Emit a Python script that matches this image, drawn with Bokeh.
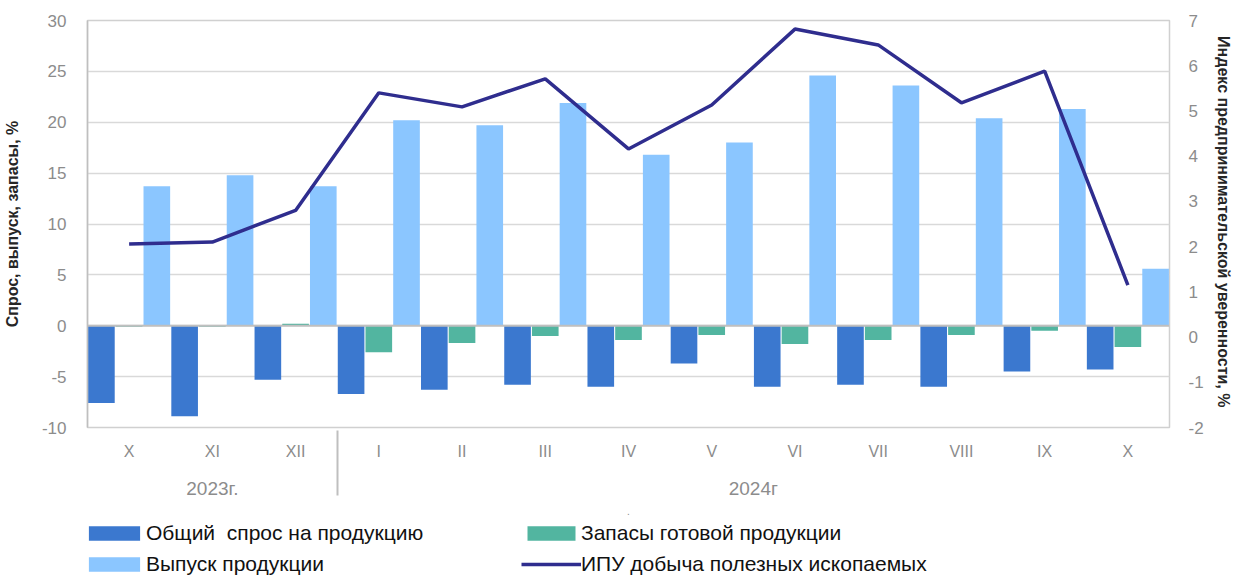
from bokeh.plotting import figure
from bokeh.layouts import column
from bokeh.models import (FactorRange, Range1d, LinearAxis, Legend, LegendItem,
                          Span, SingleIntervalTicker, PrintfTickFormatter, ColumnDataSource)
from bokeh.transform import dodge
from bokeh.embed import file_html
from bokeh.resources import INLINE

# ---- data ----
years = ["2023г."] * 3 + ["2024г"] * 10
months = ["X", "XI", "XII", "I", "II", "III", "IV", "V", "VI", "VII", "VIII", "IX", "X"]
demand = [-7.6, -8.9, -5.3, -6.7, -6.3, -5.8, -6.0, -3.7, -6.0, -5.8, -6.0, -4.5, -4.3]
stocks = [-0.1, -0.1, 0.2, -2.6, -1.7, -1.0, -1.4, -0.9, -1.8, -1.4, -0.9, -0.5, -2.1]
output = [13.7, 14.8, 13.7, 20.2, 19.7, 21.9, 16.8, 18.0, 24.6, 23.6, 20.4, 21.3, 5.6]
ipu = [2.06, 2.10, 2.80, 5.40, 5.09, 5.71, 4.16, 5.13, 6.81, 6.46, 5.18, 5.88, 1.15]

labels = ["Общий  спрос на продукцию", "Запасы готовой продукции",
          "Выпуск продукции", "ИПУ добыча полезных ископаемых"]
left_title = "Спрос, выпуск, запасы, %"
right_title = "Индекс предпринимательской  уверенности, %"

factors = list(zip(years, months))
src = ColumnDataSource(dict(x=factors, demand=demand, stocks=stocks, output=output, ipu=ipu))

FONT = "Liberation Sans"
GRAY = "#8c8c8c"
C_DEM = "#3b78cf"
C_STK = "#52b5a0"
C_OUT = "#8bc6ff"
C_IPU = "#2f2d8e"
W = 0.32
OFF = 0.333

xr = FactorRange(*factors, factor_padding=0, group_padding=0, range_padding=0)

p = figure(width=1234, height=520, output_backend="svg", toolbar_location=None,
           x_range=xr, y_range=Range1d(-10, 30),
           min_border_left=87, min_border_right=62, min_border_top=20, min_border_bottom=93)
p.extra_y_ranges = {"right": Range1d(-2, 7)}


def draw_series(fig, **kw):
    a = fig.vbar(x=dodge("x", -OFF, range=xr), top="demand", bottom=0, width=W,
                 source=src, fill_color=C_DEM, line_color=None)
    b = fig.vbar(x=dodge("x", 0.0, range=xr), top="stocks", bottom=0, width=W,
                 source=src, fill_color=C_STK, line_color=None)
    c = fig.vbar(x=dodge("x", OFF, range=xr), top="output", bottom=0, width=W,
                 source=src, fill_color=C_OUT, line_color=None)
    d = fig.line(x="x", y="ipu", source=src, line_color=C_IPU, line_width=3.5, **kw)
    return a, b, c, d


draw_series(p, y_range_name="right")

p.add_layout(Span(location=0, dimension="width", line_color="#bfbfbf", line_width=2,
                  level="overlay"))

# left axis
ya = p.yaxis[0]
ya.ticker = SingleIntervalTicker(interval=5)
ya.formatter = PrintfTickFormatter(format="%d")
ya.axis_label = left_title
ya.axis_label_text_font = FONT
ya.axis_label_text_font_style = "bold"
ya.axis_label_text_font_size = "16px"
ya.axis_label_text_color = "#262626"
ya.axis_label_standoff = 18
ya.major_label_text_font = FONT
ya.major_label_text_font_size = "17px"
ya.major_label_text_color = GRAY
ya.major_label_standoff = 17
ya.major_tick_out = 0
ya.major_tick_in = 0
ya.major_tick_line_color = None
ya.minor_tick_line_color = None
ya.axis_line_color = "#bfbfbf"
ya.axis_line_width = 1.5

# right axis
ra = LinearAxis(y_range_name="right", ticker=SingleIntervalTicker(interval=1),
                formatter=PrintfTickFormatter(format="%d"))
ra.axis_label = right_title
ra.axis_label_text_font = FONT
ra.axis_label_text_font_style = "bold"
ra.axis_label_text_font_size = "16px"
ra.axis_label_text_color = "#262626"
ra.axis_label_standoff = 8
ra.major_label_text_font = FONT
ra.major_label_text_font_size = "17px"
ra.major_label_text_color = GRAY
ra.major_label_standoff = 15
ra.major_tick_out = 0
ra.major_tick_in = 0
ra.major_tick_line_color = None
ra.minor_tick_line_color = None
ra.axis_line_color = None
p.add_layout(ra, "right")

# bottom axis
xa = p.xaxis[0]
xa.major_label_text_font = FONT
xa.major_label_text_font_size = "16px"
xa.major_label_text_color = GRAY
xa.major_label_standoff = 15
xa.group_text_font = FONT
xa.group_text_font_size = "19px"
xa.group_text_font_style = "normal"
xa.group_text_color = GRAY
xa.major_tick_out = 0
xa.major_tick_in = 0
xa.major_tick_line_color = None
xa.minor_tick_line_color = None
xa.axis_line_color = "#d0d0d0"
xa.separator_line_color = "#bfbfbf"
xa.separator_line_width = 2
xa.axis_label = "."
xa.axis_label_text_font = FONT
xa.axis_label_text_font_size = "10px"
xa.axis_label_text_font_style = "normal"
xa.axis_label_text_color = GRAY
xa.axis_label_standoff = 5

p.xgrid.grid_line_color = None
p.ygrid.grid_line_color = "#d9d9d9"
p.ygrid.grid_line_width = 1.5
p.outline_line_color = "#d0d0d0"
p.outline_line_width = 1.5

# ---- legend strip: same series, drawn into a y-window they never reach,
#      so only the legend swatches show ----
lg = figure(width=1234, height=56, output_backend="svg", toolbar_location=None,
            x_axis_location=None, y_axis_location=None, min_border=0,
            x_range=xr, y_range=Range1d(1000, 1001))
lg.grid.visible = False
lg.outline_line_color = None
s_dem, s_stk, s_out, s_ipu = draw_series(lg)

common = dict(label_text_font=FONT, label_text_font_size="21px", label_text_color="#111111",
              glyph_height=18, label_height=24, label_standoff=0, spacing=7,
              padding=0, margin=0, border_line_alpha=0, background_fill_alpha=0)
leg1 = Legend(items=[LegendItem(label=labels[0], renderers=[s_dem]),
                     LegendItem(label=labels[2], renderers=[s_out])],
              location=(-5, 0), glyph_width=64, **common)
leg2 = Legend(items=[LegendItem(label=labels[1], renderers=[s_stk]),
                     LegendItem(label=labels[3], renderers=[s_ipu])],
              location=(434, 0), glyph_width=60, **common)
lg.add_layout(leg1)
lg.add_layout(leg2)

open("out.html", "w").write(file_html(column(p, lg, spacing=0), INLINE))
